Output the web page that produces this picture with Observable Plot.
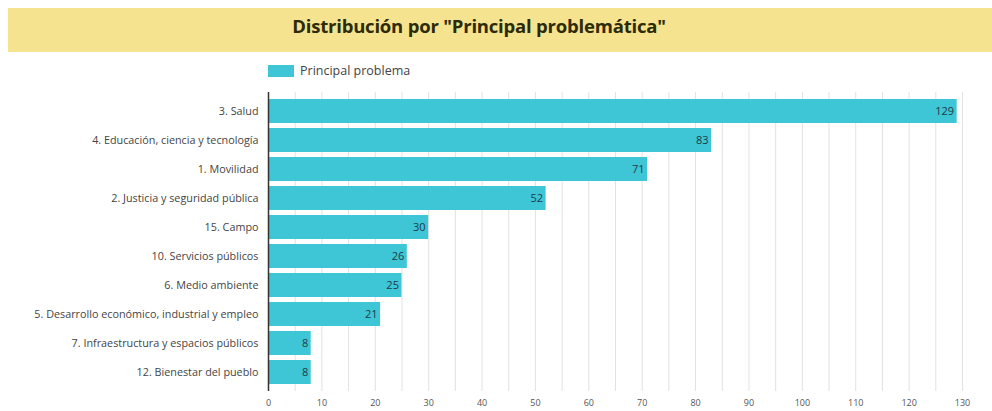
<!DOCTYPE html>
<html>
<head>
<meta charset="utf-8">
<script src="https://cdn.jsdelivr.net/npm/d3@7"></script>
<script src="https://cdn.jsdelivr.net/npm/@observablehq/plot@0.6"></script>
<style>
  html, body { margin: 0; padding: 0; background: #fff; width: 992px; height: 411px; overflow: hidden; font-family: "Open Sans", sans-serif; }
  #band { position: absolute; left: 8px; top: 8px; width: 984px; height: 44px; background: #f6e38f; }
  #title { position: absolute; left: 0; width: 942px; top: 5px; text-align: center; font-weight: 700; font-size: 18.5px; color: #2d2a06; letter-spacing: -0.2px; }
  #legend { position: absolute; left: 268px; top: 62px; display: flex; align-items: center; font-size: 12.5px; color: #444; }
  #legend .sw { width: 26px; height: 12px; background: #3fc6d6; margin-right: 6px; }
  #chart { position: absolute; left: 0; top: 85px; }
</style>
</head>
<body>
<div id="band"><div id="title">Distribución por "Principal problemática"</div></div>
<div id="legend"><span class="sw"></span><span>Principal problema</span></div>
<div id="chart"></div>
<script>
const categories = [
  "3. Salud",
  "4. Educación, ciencia y tecnología",
  "1. Movilidad",
  "2. Justicia y seguridad pública",
  "15. Campo",
  "10. Servicios públicos",
  "6. Medio ambiente",
  "5. Desarrollo económico, industrial y empleo",
  "7. Infraestructura y espacios públicos",
  "12. Bienestar del pueblo"
];
const values = [129, 83, 71, 52, 30, 26, 25, 21, 8, 8];
const xTicks = [0, 10, 20, 30, 40, 50, 60, 70, 80, 90, 100, 110, 120, 130];
const gridLines = [5, 10, 15, 20, 25, 30, 35, 40, 45, 50, 55, 60, 65, 70, 75, 80, 85, 90, 95, 100, 105, 110, 115, 120, 125, 130];

const data = categories.map((c, i) => ({category: c, value: values[i]}));

const chart = Plot.plot({
  width: 992,
  height: 326,
  marginLeft: 268,
  marginRight: 30,
  marginTop: 7,
  marginBottom: 20,
  style: {fontFamily: "Open Sans, sans-serif", background: "transparent"},
  x: {domain: [0, 130], ticks: xTicks, label: null},
  y: {domain: categories, padding: 0.18, label: null},
  marks: [
    Plot.ruleX(gridLines, {stroke: "#e2e2e2", strokeWidth: 1}),
    Plot.barX(data, {x: "value", y: "category", fill: "#3fc6d6"}),
    Plot.text(data, {x: "value", y: "category", text: d => String(d.value), textAnchor: "end", dx: -3, fill: "#1d3b48", fontSize: 11}),
    Plot.ruleX([0], {stroke: "#333", strokeWidth: 1.5}),
    Plot.axisY({tickSize: 0, tickPadding: 10, fontSize: 10.8, fill: "#444"}),
    Plot.axisX({ticks: xTicks, tickSize: 0, tickPadding: 8, fontSize: 9, fill: "#555", label: null})
  ]
});
document.getElementById("chart").appendChild(chart);
</script>
</body>
</html>
